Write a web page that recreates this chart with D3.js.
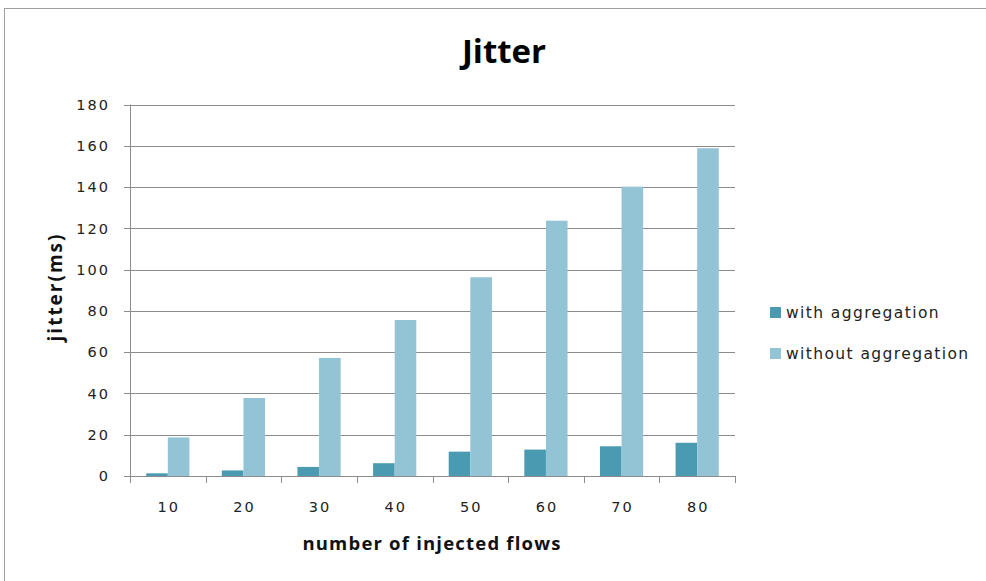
<!DOCTYPE html>
<html><head><meta charset="utf-8">
<script src="https://cdn.jsdelivr.net/npm/d3@7"></script>
<style>body{margin:0;background:#fff}svg{display:block}</style>
</head><body>
<svg id="c" width="986" height="581"></svg>
<script>
const categories = ["10","20","30","40","50","60","70","80"];
const seriesNames = ["with aggregation","without aggregation"];
const withAgg = [1.3, 2.7, 4.4, 6.2, 11.8, 12.8, 14.4, 16.1];
const withoutAgg = [18.7, 37.8, 57.2, 75.6, 96.3, 123.7, 140.2, 158.8];
const yTicks = [0,20,40,60,80,100,120,140,160,180];
const colors = ["#4A9AB1","#93C4D6"];

const svg = d3.select("#c");
const font = "'Open Sans', 'Liberation Sans', sans-serif";
const tfont = "'DejaVu Sans', sans-serif";
svg.append("rect").attr("x",4.5).attr("y",8.5).attr("width",1000).attr("height",600)
  .attr("fill","#fff").attr("stroke","#a0a0a0");

const m = {l:130, r:735, t:104.5, b:476};
const x = d3.scaleBand().domain(categories).range([m.l, m.r]).paddingInner(0).paddingOuter(0);
const y = d3.scaleLinear().domain([0,180]).range([m.b, m.t]);
const bw = x.bandwidth()/3.5;

// gridlines
svg.append("g").selectAll("line").data(yTicks).join("line")
  .attr("x1",m.l-6).attr("x2",m.r).attr("y1",d=>Math.round(y(d))+0.5).attr("y2",d=>Math.round(y(d))+0.5)
  .attr("stroke","#8c8c8c").attr("stroke-width",1);

// y labels
svg.append("g").selectAll("text").data(yTicks).join("text")
  .attr("x",110).attr("y",d=>y(d)).attr("dy","0.36em").attr("text-anchor","end")
  .attr("font-family",tfont).attr("font-size",14.5).attr("letter-spacing",2).attr("fill","#222").text(d=>d);

// bars
const series = [withAgg, withoutAgg];
series.forEach((vals,si)=>{
  svg.append("g").selectAll("rect").data(vals).join("rect")
    .attr("x",(d,i)=>x(categories[i]) + bw*0.75 + si*bw)
    .attr("width",bw)
    .attr("y",d=>y(d)).attr("height",d=>y(0)-y(d))
    .attr("fill",colors[si]);
});

// axes lines
svg.append("line").attr("x1",m.l+0.5).attr("x2",m.l+0.5).attr("y1",m.t).attr("y2",m.b)
  .attr("stroke","#8c8c8c");
svg.append("line").attr("x1",m.l).attr("x2",m.r).attr("y1",Math.round(m.b)+0.5).attr("y2",Math.round(m.b)+0.5)
  .attr("stroke","#8c8c8c");
const bounds = categories.map(c=>x(c)).concat([m.r]);
svg.append("g").selectAll("line").data(bounds).join("line")
  .attr("x1",d=>Math.round(d)+0.5).attr("x2",d=>Math.round(d)+0.5).attr("y1",m.b).attr("y2",m.b+7)
  .attr("stroke","#8c8c8c");

// x labels
svg.append("g").selectAll("text").data(categories).join("text")
  .attr("x",d=>x(d)+x.bandwidth()/2+1).attr("y",512).attr("text-anchor","middle")
  .attr("font-family",tfont).attr("font-size",14.5).attr("letter-spacing",2).attr("fill","#222").text(d=>d);

// titles
svg.append("text").attr("x",504).attr("y",63).attr("text-anchor","middle")
  .attr("font-family",font).attr("font-weight","bold").attr("font-size",33).attr("fill","#000").text("Jitter");
svg.append("text").attr("x",432).attr("y",550).attr("text-anchor","middle")
  .attr("font-family",font).attr("font-weight","bold").attr("font-size",18.5).attr("letter-spacing",1.2).attr("fill","#111").text("number of injected flows");
svg.append("text").attr("transform","translate(62,287) rotate(-90)").attr("text-anchor","middle")
  .attr("font-family",font).attr("font-weight","bold").attr("font-size",19).attr("letter-spacing",2).attr("fill","#111").text("jitter(ms)");

// legend
const lg = svg.append("g");
seriesNames.forEach((n,i)=>{
  const yy = 312 + i*41;
  lg.append("rect").attr("x",770).attr("y",yy-5).attr("width",11).attr("height",11).attr("fill",colors[i]);
  lg.append("text").attr("x",786).attr("y",yy).attr("dy","0.36em")
    .attr("font-family",tfont).attr("font-size",15.5).attr("letter-spacing",1.4).attr("fill","#222").text(n);
});
</script>
</body></html>
